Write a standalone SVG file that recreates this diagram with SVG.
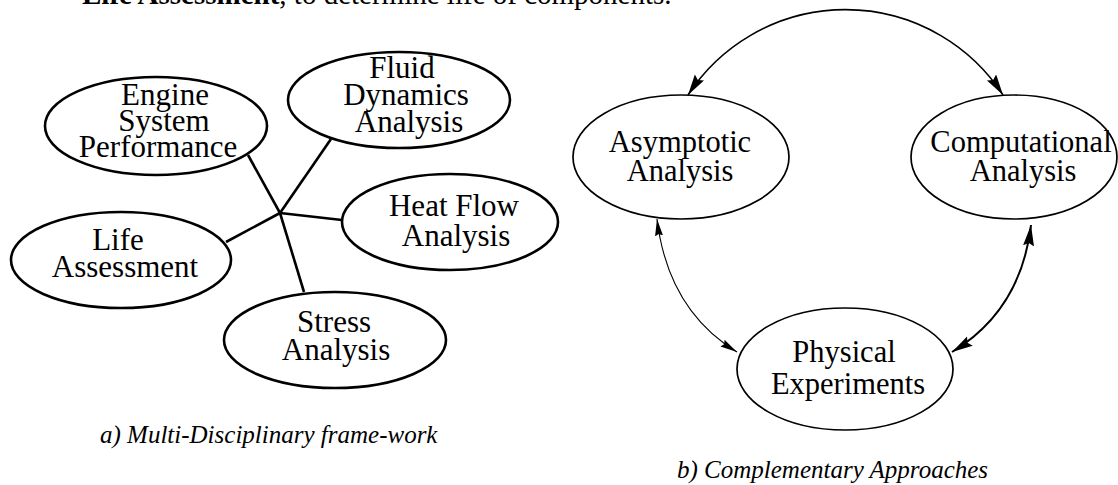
<svg xmlns="http://www.w3.org/2000/svg" width="1118" height="485" viewBox="0 0 1118 485">
  <style>
    .bg { fill: #ffffff; }
    .lbl { font-family: "Liberation Serif", "Times New Roman", serif; fill: #000; text-anchor: middle; }
    .lbl-l { font-size: 31px; }
    .lbl-r { font-size: 30.5px; }
    .cap { font-family: "Liberation Serif", "Times New Roman", serif; font-style: italic; font-size: 25px; fill: #000; }
    .body { font-family: "Liberation Serif", "Times New Roman", serif; font-size: 29px; fill: #000; }
    .node-l { fill: none; stroke: #000; stroke-width: 2.6; }
    .node-r { fill: none; stroke: #000; stroke-width: 1.7; }
    .spoke { fill: none; stroke: #000; stroke-width: 2.6; stroke-linecap: butt; }
    .arc { fill: none; stroke: #000; }
  </style>
  <defs>
    <marker id="head" markerUnits="userSpaceOnUse" markerWidth="22" markerHeight="12" refX="21" refY="5.5" orient="auto-start-reverse">
      <path d="M0,0 L21,5.5 L0,11 L3,5.5 z" fill="#000"/>
    </marker>
    <marker id="head-thin" markerUnits="userSpaceOnUse" markerWidth="18" markerHeight="9" refX="17" refY="4" orient="auto-start-reverse">
      <path d="M0,0 L17,4 L0,8 L2,4 z" fill="#000"/>
    </marker>
  </defs>

  <rect class="bg" x="0" y="0" width="1118" height="485"/>

  <!-- running text line, partly cut off at the top edge -->
  <text class="body" x="82" y="4"><tspan font-weight="bold">Life Assessment</tspan>, to determine life of components.</text>

  <!-- a) multi-disciplinary framework: spokes from a common hub -->
  <g id="spokes">
    <line class="spoke" x1="248" y1="155" x2="280" y2="213"/>
    <line class="spoke" x1="280" y1="213" x2="304" y2="292"/>
    <line class="spoke" x1="280" y1="213" x2="331" y2="139"/>
    <line class="spoke" x1="280" y1="213" x2="342" y2="220"/>
    <line class="spoke" x1="280" y1="213" x2="226" y2="242"/>
  </g>

  <g id="engine">
    <ellipse class="node-l" cx="156" cy="126" rx="111" ry="49"/>
    <text class="lbl lbl-l" x="165" y="105">Engine</text>
    <text class="lbl lbl-l" x="164" y="131">System</text>
    <text class="lbl lbl-l" x="158" y="157">Performance</text>
  </g>

  <g id="fluid">
    <ellipse class="node-l" cx="399" cy="100" rx="111" ry="48"/>
    <text class="lbl lbl-l" x="402" y="78">Fluid</text>
    <text class="lbl lbl-l" x="406" y="105">Dynamics</text>
    <text class="lbl lbl-l" x="409" y="132">Analysis</text>
  </g>

  <g id="heat">
    <ellipse class="node-l" cx="450" cy="222" rx="108" ry="48"/>
    <text class="lbl lbl-l" x="454" y="216">Heat Flow</text>
    <text class="lbl lbl-l" x="456" y="246">Analysis</text>
  </g>

  <g id="life">
    <ellipse class="node-l" cx="121" cy="260" rx="110" ry="48"/>
    <text class="lbl lbl-l" x="118" y="250">Life</text>
    <text class="lbl lbl-l" x="125" y="277">Assessment</text>
  </g>

  <g id="stress">
    <ellipse class="node-l" cx="335" cy="340" rx="111" ry="48"/>
    <text class="lbl lbl-l" x="334" y="332">Stress</text>
    <text class="lbl lbl-l" x="336" y="360">Analysis</text>
  </g>

  <text id="caption-a" class="cap" x="100" y="443">a) Multi-Disciplinary frame-work</text>

  <!-- b) complementary approaches: two-way links between the three methods -->
  <g id="links">
    <path class="arc" stroke-width="1.6" d="M688,95 A188,188 0 0 1 1003,95" marker-start="url(#head)" marker-end="url(#head)"/>
    <path class="arc" stroke-width="1.1" d="M657,219 Q668,310 737,352" marker-start="url(#head-thin)" marker-end="url(#head-thin)"/>
    <path class="arc" stroke-width="2" d="M1031,225 Q1021,310 952,352" marker-start="url(#head)" marker-end="url(#head)"/>
  </g>

  <g id="asymptotic">
    <ellipse class="node-r" cx="681" cy="157" rx="108" ry="62"/>
    <text class="lbl lbl-r" x="680" y="152">Asymptotic</text>
    <text class="lbl lbl-r" x="680" y="181">Analysis</text>
  </g>

  <g id="computational">
    <ellipse class="node-r" cx="1014" cy="157" rx="103" ry="62"/>
    <text class="lbl lbl-r" x="1021" y="152">Computational</text>
    <text class="lbl lbl-r" x="1023" y="181">Analysis</text>
  </g>

  <g id="physical">
    <ellipse class="node-r" cx="845" cy="369" rx="108" ry="61"/>
    <text class="lbl lbl-r" x="844" y="362">Physical</text>
    <text class="lbl lbl-r" x="848" y="394">Experiments</text>
  </g>

  <text id="caption-b" class="cap" x="677" y="478">b) Complementary Approaches</text>
</svg>
